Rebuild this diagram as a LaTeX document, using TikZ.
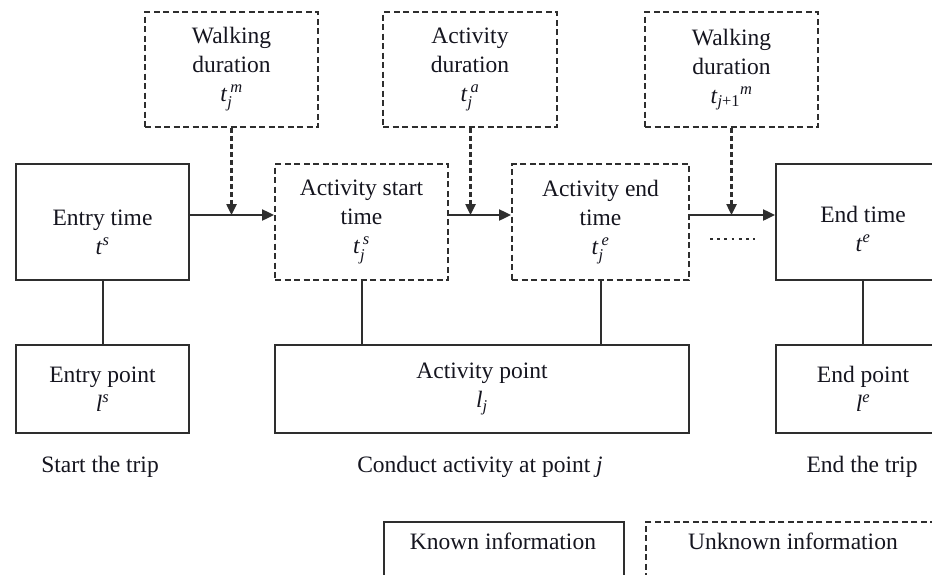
\documentclass[tikz,border=0pt]{standalone}
\usepackage{amsmath}
\usepackage{fontspec}
\setmainfont{Liberation Serif}
\usetikzlibrary{arrows.meta,calc}
\definecolor{ln}{HTML}{2E2E2E}
\definecolor{tx}{HTML}{15151F}
\newcommand{\vi}[1]{\textit{#1}}
\begin{document}
\begin{tikzpicture}[x=1pt,y=-1pt,
  every node/.style={font=\fontsize{23.5}{29}\selectfont, text=tx, align=center},
  known/.style={draw=ln, line width=1.8pt, minimum height=116pt, minimum width=173pt, inner sep=0pt},
  unknown/.style={known, dash pattern=on 6pt off 3.5pt},
  ptbox/.style={known, minimum height=88pt},
  flow/.style={draw=ln, line width=2pt, -{Triangle[length=12pt,width=11pt]}},
  feed/.style={draw=ln, line width=2.4pt, dash pattern=on 5pt off 3pt, -{Triangle[length=11pt,width=10pt]}},
  link/.style={draw=ln, line width=2pt},
  lbl/.style={inner sep=0pt}]
\clip (0,0) rectangle (932,574);
\fill[white] (0,0) rectangle (932,574);
% top dashed boxes
\node[unknown, minimum height=115pt] (wd1) at (231.5,69.5) {Walking\\duration\\\vi{t}$_{\textit{j}}^{\,\textit{m}}$};
\node[unknown, minimum height=115pt, minimum width=174pt] (ad) at (470,69.5) {Activity\\duration\\\vi{t}$_{\textit{j}}^{\,\textit{a}}$};
\node[unknown, minimum height=115pt] (wd2) at (731.5,69.5) {Walking\\duration\\\vi{t}$_{\textit{j}\text{+1}}{}^{\textit{m}}$};
% time row
\node[known] (entry) at (102.5,222) {\rule{0pt}{36pt}Entry time\\\vi{t}$^{\textit{s}}$};
\node[unknown] (start) at (361.5,222) {Activity start\\time\\\vi{t}$_{\textit{j}}^{\,\textit{s}}$};
\node[unknown, minimum width=177pt] (endact) at (600.5,222) {Activity end\\time\\\vi{t}$_{\textit{j}}^{\,\textit{e}}$};
\node[known, minimum width=174pt] (endtime) at (863,222) {\rule{0pt}{31pt}End time\\\vi{t}$^{\textit{e}}$};
% point row
\node[ptbox] (entrypt) at (102.5,389) {Entry point\\\vi{l}$^{\textit{s}}$};
\node[ptbox, minimum width=414pt] (actpt) at (482,389) {Activity point\\\vi{l}$_{\textit{j}}$};
\node[ptbox, minimum width=174pt] (endpt) at (863,389) {End point\\\vi{l}$^{\textit{e}}$};
% captions
\node[lbl] (c1) at (100,467) {Start the trip};
\node[lbl] (c2) at (480,467) {Conduct activity at point \vi{j}};
\node[lbl] (c3) at (862,467) {End the trip};
% legend
\node[known, minimum width=240pt, minimum height=80pt, anchor=north west] (leg1) at (383,521) {};
\node[unknown, minimum width=300pt, minimum height=80pt, anchor=north west] (leg2) at (645,521) {};
\node[lbl] (lt1) at (503,541) {Known information};
\node[lbl] (lt2) at (793,541) {Unknown information};
% flow arrows
\coordinate (ay) at (0,215);
\draw[flow] (entry.east |- ay) -- (start.west |- ay);
\draw[flow] (start.east |- ay) -- (endact.west |- ay);
\draw[flow] (endact.east |- ay) -- (endtime.west |- ay);
% feed arrows
\draw[feed] (wd1.south) -- (wd1.south |- ay);
\draw[feed] ([xshift=0.5pt]ad.south) -- ([xshift=0.5pt]ad.south |- ay);
\draw[feed] (wd2.south) -- (wd2.south |- ay);
% ellipsis
\coordinate (d1) at (710,239);
\coordinate (d2) at (755,239);
\draw[ln, line width=2.8pt, dash pattern=on 2.8pt off 4.4pt] (d1) -- (d2);
% links
\draw[link] (entry.south) -- (entrypt.north);
\draw[link] (start.south) -- (start.south |- actpt.north);
\draw[link] (endact.south) -- (endact.south |- actpt.north);
\draw[link] (endtime.south) -- (endpt.north);
\end{tikzpicture}
\end{document}
